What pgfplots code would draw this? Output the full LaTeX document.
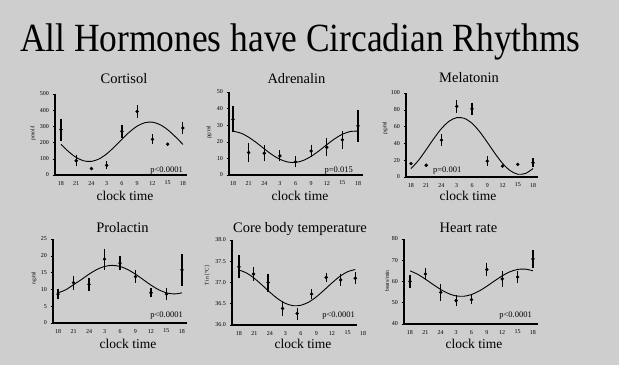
\documentclass[border=0pt]{standalone}
\usepackage{fontspec}
\setmainfont{Liberation Serif}
\usepackage{graphicx}
\usepackage{pgfplots}
\pgfplotsset{compat=1.18}
\definecolor{bg}{RGB}{206,206,206}
\pgfplotsset{
 hormone/.style={
  scale only axis,
  axis lines*=left,
  axis line style={line width=1.3pt, black},
  tick align=outside,
  major tick length=2.5pt,
  xtick={0,3,...,24},
  xticklabels={18,21,24,3,6,9,12,15,18},
  xtick style={draw=none},
  ytick style={line width=0.6pt, black},
  tick label style={font=\fontsize{6}{6}\selectfont},
  /pgf/number format/assume math mode=true,
  clip=false,
  anchor=south west,
 },
 pts/.style={only marks, mark=*, mark size=1.5pt, black,
  error bars/y dir=both, error bars/y explicit,
  error bars/error bar style={line width=1.1pt, black},
  error bars/error mark options={line width=1.1pt, mark size=2.2pt, black}},
 dots/.style={only marks, mark=*, mark size=1.5pt, black},
 fit/.style={black, line width=0.9pt, smooth, mark=none},
}
\newcommand{\ptitle}{\fontsize{14.5}{14.5}\selectfont}
\newcommand{\clk}{\fontsize{13.5}{13.5}\selectfont}
\newcommand{\pval}{\fontsize{8.5}{8.5}\selectfont}
\newcommand{\ylab}{\fontsize{5.5}{5.5}\selectfont}
\begin{document}
\begin{tikzpicture}[x=1pt,y=1pt]
\fill[bg] (0,0) rectangle (619,365);
\useasboundingbox (0,0) rectangle (619,365);
\node[anchor=base west, inner sep=0] at (20,313) {\scalebox{0.885}[1]{\fontsize{40}{40}\selectfont All Hormones have Circadian Rhythms}};

% Cortisol
\begin{axis}[hormone, at={(55pt,190pt)}, width=132pt, height=81pt,
  xmin=-1.18, xmax=24.8, ymin=0, ymax=500, ytick={0,100,...,500}]
\addplot[fit] table {
0 189.1
1.5 144
3 108.2
4.5 87.2
6 84.0
7.5 99.3
9 130.7
10.5 173.4
12 220.9
13.5 266
15 301.8
16.5 322.8
18 326.0
19.5 310.7
21 279.3
22.5 236.6
24 189.1
};
\addplot[pts] table[x=x, y=y, y error=e] {
x y e
0 280 55
3 88 20
9 60 12
12 270 25
15 392 25
18 220 18
24 290 25
};
\addplot[dots] table {
6 40
21 190
};
\end{axis}

% Adrenalin
\begin{axis}[hormone, at={(229pt,190pt)}, width=134pt, height=83pt,
  xmin=-0.77, xmax=24.96, ymin=0, ymax=50, ytick={0,10,...,50}]
\addplot[fit] table {
0 26.42
1.5 25.23
3 22.78
4.5 19.46
6 15.76
7.5 12.25
9 9.46
10.5 7.82
12 7.58
13.5 8.77
15 11.22
16.5 14.54
18 18.24
19.5 21.75
21 24.54
22.5 26.18
24 26.42
};
\addplot[pts] table[x=x, y=y, y error=e] {
x y e
0 33.5 6.5
3 13.5 4.5
6 13.1 3.6
9 11.5 2
12 7.9 2
15 14.5 2.3
18 16.7 4
21 21.2 4
24 29.6 8.3
};
\end{axis}

% Melatonin
\begin{axis}[hormone, at={(406pt,188pt)}, width=132pt, height=84pt,
  xmin=-0.98, xmax=24.98, ymin=0, ymax=100, ytick={0,20,...,100}]
\addplot[fit] table {
0 10.0
1.5 20.0
3 32.6
4.5 45.8
6 57.7
7.5 66.4
9 70.7
10.5 69.8
12 64.0
13.5 54.0
15 41.4
16.5 28.2
18 16.3
19.5 7.6
21 3.3
22.5 4.2
24 10.0
};
\addplot[pts] table[x=x, y=y, y error=e] {
x y e
6 44 4.5
9 84 5
12 81 5
15 19 3
24 17 2.5
};
\addplot[dots] table {
0 16
3 14
18 13
21 15
};
\end{axis}

% Prolactin
\begin{axis}[hormone, at={(53pt,42pt)}, width=134pt, height=84pt,
  xmin=-0.97, xmax=24.97, ymin=0, ymax=25, ytick={0,5,...,25}]
\addplot[fit] table {
0 8.97
1.5 9.89
3 11.4
4.5 12.9
6 14.53
7.5 15.9
9 16.83
10.5 17.15
12 16.83
13.5 15.9
15 14.53
16.5 12.9
18 11.27
19.5 9.89
21 8.97
22.5 8.65
24 8.97
};
\addplot[pts] table[x=x, y=y, y error=e] {
x y e
0 8.6 0.9
3 12.0 1.4
6 11.5 1.2
9 19.0 2.5
12 17.8 1.5
15 13.8 1.3
18 9.0 0.7
21 8.6 1.1
24 15.8 4
};
\end{axis}

% Core body temperature
\begin{axis}[hormone, at={(232pt,40pt)}, width=131pt, height=85pt,
  xmin=-1.35, xmax=24, ymin=36, ymax=38, ytick={36,36.5,...,38},
  x axis line style={shorten >=6pt},
  yticklabel style={/pgf/number format/.cd, fixed, fixed zerofill, precision=1}]
\addplot[fit] table {
0 37.295
1.5 37.221
3 37.095
4.5 36.936
6 36.769
7.5 36.618
9 36.508
10.5 36.454
12 36.465
13.5 36.539
15 36.665
16.5 36.824
18 36.991
19.5 37.142
21 37.252
22.5 37.306
};
\addplot[pts] table[x=x, y=y, y error=e] {
x y e
0 37.37 0.22
2.8125 37.2 0.11
5.625 37.0 0.16
8.4375 36.39 0.12
11.25 36.27 0.09
14.0625 36.73 0.06
16.875 37.12 0.06
19.6875 37.06 0.09
22.5 37.1 0.09
};
\end{axis}

% Heart rate
\begin{axis}[hormone, at={(404pt,41pt)}, width=134pt, height=85pt,
  xmin=-1.17, xmax=24.98, ymin=40, ymax=80, ytick={40,50,...,80}]
\addplot[fit] table {
0 65.04
1.5 63.38
3 61.12
4.5 58.61
6 56.23
7.5 54.33
9 53.22
10.5 53.06
12 53.86
13.5 55.52
15 57.78
16.5 60.29
18 62.68
19.5 64.57
21 65.68
22.5 65.84
24 65.04
};
\addplot[pts] table[x=x, y=y, y error=e] {
x y e
0 60.1 2
3 63.5 1.6
6 54.9 3.1
9 51.0 1.7
12 51.5 0.9
15 65.6 2.2
18 61.2 2.6
21 62.1 2
24 70.6 3.4
};
\end{axis}

% panel titles
\node[anchor=base] at (124,281) {\ptitle Cortisol};
\node[anchor=base] at (296.5,281) {\ptitle Adrenalin};
\node[anchor=base] at (469,282) {\ptitle Melatonin};
\node[anchor=base] at (122.5,133) {\ptitle Prolactin};
\node[anchor=base] at (300,133) {\ptitle Core body temperature};
\node[anchor=base] at (468.5,133) {\ptitle Heart rate};
% clock time
\node[anchor=base] at (125,165) {\clk clock time};
\node[anchor=base] at (300,165) {\clk clock time};
\node[anchor=base] at (468,165) {\clk clock time};
\node[anchor=base] at (128,17) {\clk clock time};
\node[anchor=base] at (303,17) {\clk clock time};
\node[anchor=base] at (474,17) {\clk clock time};
% p-values
\node[anchor=base east, inner sep=0] at (183,193) {\pval p<0.0001};
\node[anchor=base east, inner sep=0] at (353,193) {\pval p=0.015};
\node[anchor=base west, inner sep=0] at (433,193) {\pval p=0.001};
\node[anchor=base east, inner sep=0] at (183,48) {\pval p<0.0001};
\node[anchor=base east, inner sep=0] at (355,48) {\pval p<0.0001};
\node[anchor=base east, inner sep=0] at (532,48) {\pval p<0.0001};
% y labels
\node[rotate=90, inner sep=0] at (33,232) {\ylab pmol/l};
\node[rotate=90, inner sep=0] at (209,232.5) {\ylab pg/ml};
\node[rotate=90, inner sep=0] at (385,237) {\ylab pg/ml};
\node[rotate=90, inner sep=0] at (34,87) {\ylab ng/ml};
\node[rotate=90, inner sep=0] at (207,89) {\ylab T in [°C]};
\node[rotate=90, inner sep=0] at (387,84) {\ylab beats/min};
\end{tikzpicture}
\end{document}
